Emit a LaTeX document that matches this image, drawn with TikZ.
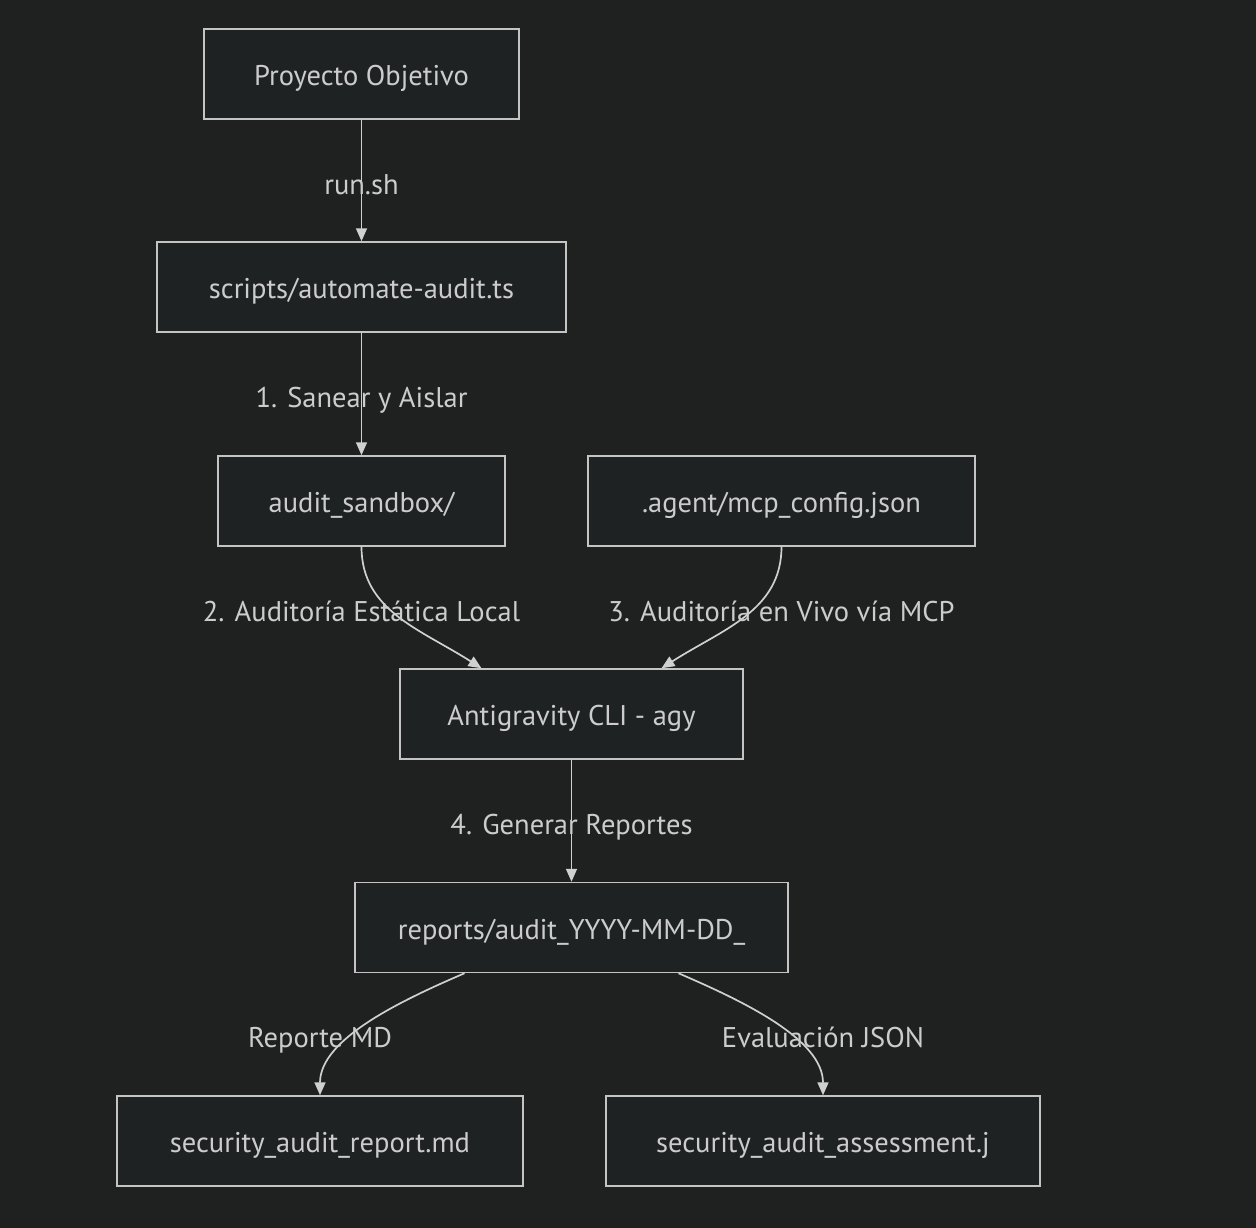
\documentclass[tikz,border=0pt]{standalone}
\usepackage{fontspec}
\setmainfont{PT Sans}
\usetikzlibrary{arrows.meta}

\definecolor{fondo}{HTML}{1F2020}
\definecolor{relleno}{HTML}{1F2222}
\definecolor{borde}{HTML}{C4C4C4}
\definecolor{linea}{HTML}{D0D0D0}
\definecolor{texto}{HTML}{CCCCCC}

\begin{document}
\begin{tikzpicture}[x=1pt, y=-1pt,
    caja/.style={draw=borde, fill=relleno, line width=1.5pt, minimum height=90pt,
        inner sep=0pt, text height=29pt, text depth=6pt, text=texto,
        font=\fontsize{28.5}{34}\selectfont},
    flecha/.style={draw=linea, line width=1.7pt, -{Triangle[length=13pt,width=11pt]}},
    etiqueta/.style={text=texto, inner sep=0pt, text height=28pt, text depth=6pt,
        font=\fontsize{28.5}{34}\selectfont}]

    % --- Fondo ---
    \fill[fondo] (0,0) rectangle (1256,1228);
    \useasboundingbox (0,0) rectangle (1256,1228);

    % --- Nodos ---
    \node[caja, minimum width=315pt] (proyecto) at (361.5,74) {Proyecto Objetivo};
    \node[caja, minimum width=409pt] (script) at (361.5,287) {scripts/automate-audit.ts};
    \node[caja, minimum width=287pt] (sandbox) at (361.5,501) {audit\_sandbox/};
    \node[caja, minimum width=387pt] (mcp) at (781.5,501) {.agent/mcp\_config.json};
    \node[caja, minimum width=343pt] (agy) at (571.5,714) {Antigravity CLI - agy};
    \node[caja, minimum width=433pt] (reportes) at (571.5,927.5) {reports/audit\_YYYY-MM-DD\_};
    \node[caja, minimum width=406pt] (md) at (320,1141) {security\_audit\_report.md};
    \node[caja, minimum width=434pt] (json) at (823,1141) {security\_audit\_assessment.j};

    % --- Conectores ---
    \draw[flecha] (proyecto.south) -- (script.north);
    \draw[flecha] (script.south) -- (sandbox.north);
    \draw[flecha] (sandbox.south) .. controls +(0,64) and +(-61,-39) .. ([xshift=-90pt]agy.north);
    \draw[flecha] (mcp.south) .. controls +(0,64) and +(61,-39) .. ([xshift=90pt]agy.north);
    \draw[flecha] (agy.south) -- (reportes.north);
    \draw[flecha] ([xshift=-107pt]reportes.south) .. controls +(-65,28) and +(0,-56) .. (md.north);
    \draw[flecha] ([xshift=107pt]reportes.south) .. controls +(65,28) and +(0,-56) .. (json.north);

    % --- Etiquetas ---
    \node[etiqueta] (e1) at (361.5,183) {run.sh};
    \node[etiqueta] (e2) at (361.5,396) {1. Sanear y Aislar};
    \node[etiqueta] (e3) at (361.5,610) {2. Auditoría Estática Local};
    \node[etiqueta] (e4) at (781.5,610) {3. Auditoría en Vivo vía MCP};
    \node[etiqueta] (e5) at (571.5,823) {4. Generar Reportes};
    \node[etiqueta] (e6) at (320,1036) {Reporte MD};
    \node[etiqueta] (e7) at (823,1036) {Evaluación JSON};

\end{tikzpicture}
\end{document}
